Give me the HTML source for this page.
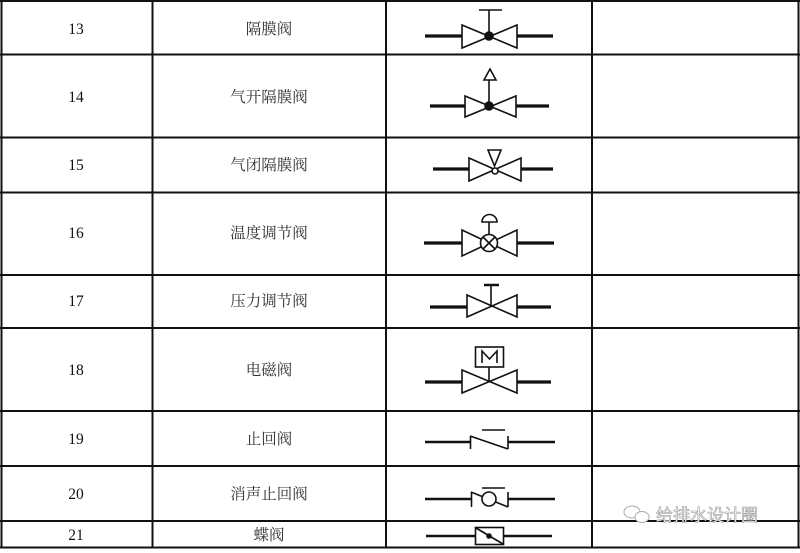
<!DOCTYPE html>
<html><head><meta charset="utf-8"><style>
html,body{margin:0;padding:0;background:#fff;width:800px;height:553px;overflow:hidden}
text{font-family:"Liberation Serif","Noto Serif CJK SC",serif;font-size:15.5px;}
</style></head><body>
<svg width="800" height="553" viewBox="0 0 800 553" xmlns="http://www.w3.org/2000/svg">
<g stroke="#111" stroke-width="2" fill="none">
<line x1="0" y1="1" x2="800" y2="1"/>
<line x1="0" y1="54.5" x2="800" y2="54.5"/>
<line x1="0" y1="137.5" x2="800" y2="137.5"/>
<line x1="0" y1="192.5" x2="800" y2="192.5"/>
<line x1="0" y1="275" x2="800" y2="275"/>
<line x1="0" y1="328" x2="800" y2="328"/>
<line x1="0" y1="411" x2="800" y2="411"/>
<line x1="0" y1="466" x2="800" y2="466"/>
<line x1="0" y1="521" x2="800" y2="521"/>
<line x1="0" y1="547.5" x2="800" y2="547.5"/>
<line x1="1.5" y1="0" x2="1.5" y2="548"/>
<line x1="152.5" y1="0" x2="152.5" y2="548"/>
<line x1="386" y1="0" x2="386" y2="548"/>
<line x1="592" y1="0" x2="592" y2="548"/>
<line x1="798.5" y1="0" x2="798.5" y2="548"/>
</g>
<g text-anchor="middle" fill="#111">
<text x="76" y="34">13</text><text x="269" y="34" fill="#333">隔膜阀</text>
<text x="76" y="102">14</text><text x="269" y="102" fill="#333">气开隔膜阀</text>
<text x="76" y="170">15</text><text x="269" y="170" fill="#333">气闭隔膜阀</text>
<text x="76" y="238">16</text><text x="269" y="238" fill="#333">温度调节阀</text>
<text x="76" y="306">17</text><text x="269" y="306" fill="#333">压力调节阀</text>
<text x="76" y="375">18</text><text x="269" y="375" fill="#333">电磁阀</text>
<text x="76" y="444">19</text><text x="269" y="444" fill="#333">止回阀</text>
<text x="76" y="499">20</text><text x="269" y="499" fill="#333">消声止回阀</text>
<text x="76" y="540">21</text><text x="269" y="540" fill="#333">蝶阀</text>
</g>
<g stroke="#111" fill="none" stroke-width="1.6">
<line x1="425" y1="36" x2="462" y2="36" stroke-width="3.2"/><line x1="517" y1="36" x2="553" y2="36" stroke-width="3.2"/>
<path d="M462 25 L517 48 L517 25 L462 48 Z"/>
<circle cx="489" cy="36" r="4" fill="#111"/>
<line x1="489" y1="36" x2="489" y2="10"/><line x1="479" y1="10" x2="502" y2="10"/>
<line x1="430" y1="106" x2="465" y2="106" stroke-width="3.2"/><line x1="516" y1="106" x2="549" y2="106" stroke-width="3.2"/>
<path d="M465 96 L516 117 L516 96 L465 117 Z"/>
<circle cx="489" cy="106" r="4" fill="#111"/>
<line x1="489" y1="106" x2="489" y2="80"/><path d="M484 80 L496 80 L490 69 Z"/>
<line x1="433" y1="169" x2="469" y2="169" stroke-width="3.2"/><line x1="521" y1="169" x2="553" y2="169" stroke-width="3.2"/>
<path d="M469 158 L521 181 L521 158 L469 181 Z"/>
<circle cx="495" cy="171" r="3" fill="#fff"/>
<path d="M488 150 L501 150 L494.5 166 Z"/>
<line x1="424" y1="243" x2="462" y2="243" stroke-width="3.2"/><line x1="517" y1="243" x2="554" y2="243" stroke-width="3.2"/>
<path d="M462 230 L517 256 L517 230 L462 256 Z"/>
<circle cx="489" cy="243" r="8.5" fill="#fff"/>
<line x1="483" y1="237" x2="495" y2="249"/><line x1="495" y1="237" x2="483" y2="249"/>
<line x1="489" y1="234" x2="489" y2="222"/><path d="M482 222 A7 7 0 0 1 497 222 Z"/>
<line x1="430" y1="307" x2="467" y2="307" stroke-width="3.2"/><line x1="517" y1="307" x2="551" y2="307" stroke-width="3.2"/>
<path d="M467 295 L517 317 L517 295 L467 317 Z"/>
<line x1="491" y1="306" x2="491" y2="285"/><line x1="484" y1="285" x2="499" y2="285" stroke-width="2.5"/>
<line x1="425" y1="382" x2="462" y2="382" stroke-width="3.2"/><line x1="517" y1="382" x2="551" y2="382" stroke-width="3.2"/>
<path d="M462 370 L517 393 L517 370 L462 393 Z"/>
<line x1="489" y1="381" x2="489" y2="367"/>
<rect x="475.5" y="347" width="28" height="20"/>
<path d="M482 363 L482 351 L489.5 359 L497 351 L497 363"/>
<line x1="425" y1="442" x2="470" y2="442" stroke-width="2.4"/><line x1="508" y1="442" x2="555" y2="442" stroke-width="2.4"/>
<line x1="470.5" y1="436" x2="470.5" y2="449"/><line x1="508" y1="436" x2="508" y2="449"/>
<line x1="470" y1="436" x2="508" y2="449"/><line x1="482" y1="430" x2="505" y2="430"/>
<line x1="425" y1="499" x2="471" y2="499" stroke-width="2.4"/><line x1="508" y1="499" x2="555" y2="499" stroke-width="2.4"/>
<line x1="471.5" y1="492" x2="471.5" y2="507"/><line x1="508" y1="492" x2="508" y2="507"/>
<line x1="471" y1="492" x2="508" y2="507"/>
<circle cx="489" cy="499" r="7" fill="#fff"/>
<line x1="482" y1="488" x2="505" y2="488"/>
<line x1="426" y1="536" x2="475" y2="536" stroke-width="2.4"/><line x1="503" y1="536" x2="552" y2="536" stroke-width="2.4"/>
<rect x="475.5" y="527.5" width="28" height="17"/>
<line x1="476" y1="528" x2="503" y2="544"/>
<circle cx="489" cy="536" r="2" fill="#111"/>
</g>
<g stroke="#aaa" stroke-width="1" fill="#fff">
<ellipse cx="632" cy="512" rx="8" ry="6"/>
<ellipse cx="642" cy="517" rx="7" ry="5.5"/>
</g>
<text x="656" y="521" fill="#fff" stroke="#999" stroke-width="0.6" style="font-family:'Liberation Sans','Noto Sans CJK SC',sans-serif;font-size:17px">给排水设计圈</text>
</svg>
</body></html>
